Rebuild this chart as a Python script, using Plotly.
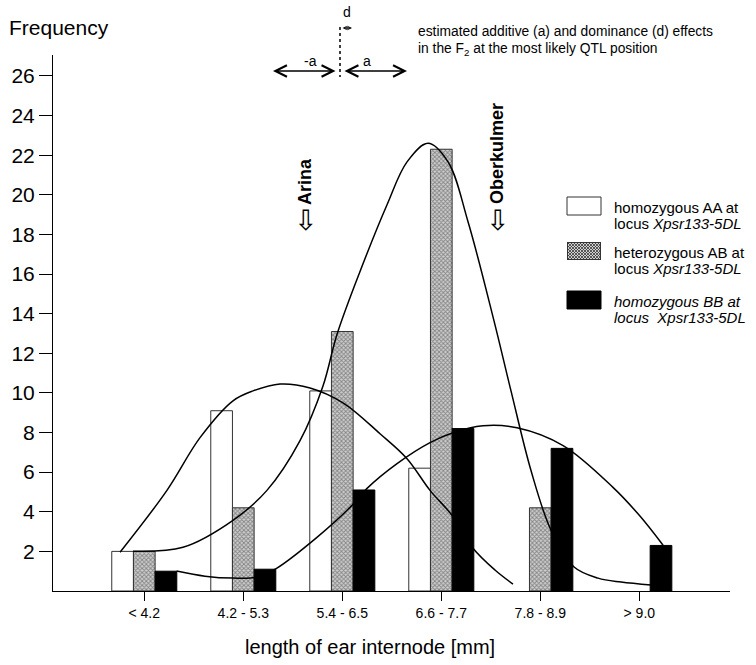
import base64
import plotly.graph_objects as go

# ---------------- data ----------------
categories = ["< 4.2", "4.2 - 5.3", "5.4 - 6.5", "6.6 - 7.7", "7.8 - 8.9", "> 9.0"]
aa_counts = [2.0, 9.1, 10.1, 6.2, None, None]
ab_counts = [2.0, 4.2, 13.1, 22.3, 4.2, None]
bb_counts = [1.0, 1.1, 5.1, 8.2, 7.2, 2.3]

# fitted distribution curves (x in category-index units)
aa_curve_x = [-0.245, 0.229, 0.563, 0.896, 1.098, 1.371, 1.674, 2.007, 2.381, 2.654, 2.886, 3.108, 3.320, 3.542, 3.724]
aa_curve_y = [1.96, 5.08, 7.74, 9.60, 10.10, 10.45, 10.25, 9.50, 7.94, 6.68, 5.08, 3.82, 2.16, 1.06, 0.35]

ab_curve_x = [-0.114, 0.391, 0.896, 1.239, 1.573, 1.805, 1.947, 2.179, 2.452, 2.654, 2.866, 3.068, 3.270, 3.533, 3.704, 3.906, 4.108, 4.341, 4.583, 4.816, 5.12]
ab_curve_y = [2.01, 2.21, 3.57, 5.08, 7.59, 10.35, 12.96, 16.13, 19.50, 21.66, 22.60, 21.66, 18.64, 13.62, 10.10, 6.08, 3.07, 1.21, 0.65, 0.45, 0.30]

bb_curve_x = [0.326, 0.613, 0.896, 1.138, 1.340, 1.744, 2.078, 2.250, 2.553, 2.886, 3.118, 3.421, 3.765, 4.230, 4.734, 5.000, 5.240]
bb_curve_y = [1.01, 0.75, 0.65, 0.70, 1.16, 2.71, 4.22, 5.18, 6.43, 7.49, 7.99, 8.34, 8.24, 7.34, 5.23, 3.82, 2.31]

y_ticks = [2, 4, 6, 8, 10, 12, 14, 16, 18, 20, 22, 24, 26]

series_names = ["homozygous AA at locus Xpsr133-5DL",
                "heterozygous AB at locus Xpsr133-5DL",
                "homozygous BB at locus Xpsr133-5DL"]

# ---------------- layout constants ----------------
W, H = 756, 665
ML, MR, MT, MB = 53, 26, 55, 74
PW, PH = W - ML - MR, H - MT - MB
FONT = "Liberation Sans, Arial, Helvetica, DejaVu Sans, sans-serif"
ARROWFONT = "DejaVu Sans, sans-serif"


def fx(px):
    return (px - ML) / PW


def fy(py):
    return (H - MB - py) / PH


xs = list(range(len(categories)))

fig = go.Figure()
fig.add_trace(go.Bar(x=xs, y=aa_counts, name=series_names[0],
                     marker=dict(color="white", line=dict(color="#333", width=1))))
fig.add_trace(go.Bar(x=xs, y=ab_counts, name=series_names[1],
                     marker=dict(color="#a8a8a8", line=dict(color="#333", width=1),
                                 pattern=dict(shape="x", size=3, solidity=0.5,
                                              fgcolor="#3a3a3a", bgcolor="#cfcfcf"))))
fig.add_trace(go.Bar(x=xs, y=bb_counts, name=series_names[2],
                     marker=dict(color="black", line=dict(color="black", width=1))))

for cx, cy in [(aa_curve_x, aa_curve_y), (ab_curve_x, ab_curve_y), (bb_curve_x, bb_curve_y)]:
    fig.add_trace(go.Scatter(x=cx, y=cy, mode="lines",
                             line=dict(color="black", width=1.5, shape="spline", smoothing=1.0),
                             hoverinfo="skip"))

ann = []
shapes = []


def text(t, px, py, size, xanchor="center", angle=0, family=FONT):
    ann.append(dict(text=t, x=fx(px), y=fy(py), xref="paper", yref="paper",
                    xanchor=xanchor, yanchor="middle", showarrow=False, textangle=angle,
                    font=dict(size=size, family=family, color="black")))


# axis titles
text("Frequency", 7, 28, 21, xanchor="left")
text("length of ear internode [mm]", 370, 647, 20)

# parent arrows
text("<b>Arina</b>", 305, 182, 18, angle=-90)
text("⇩", 305, 221, 28, family=ARROWFONT)
text("<b>Oberkulmer</b>", 497, 154, 18, angle=-90)
text("⇩", 497, 221, 28, family=ARROWFONT)

# effects diagram
shapes.append(dict(type="line", xref="paper", yref="paper", x0=fx(340), x1=fx(340), y0=fy(27), y1=fy(77),
                   line=dict(color="black", width=1.5, dash="dot")))
text("d", 347, 12, 14)
text("-a", 310, 61, 14)
text("a", 367, 61, 14)
for (x_head, x_tail, yy, sz, wd) in [(273, 337, 71, 1.5, 1.5), (407, 343, 71, 1.5, 1.5), (352, 341, 28, 0.6, 1.3)]:
    ann.append(dict(text="", x=fx(x_head), y=fy(yy), xref="paper", yref="paper", showarrow=True,
                    ax=x_tail - x_head, ay=0, axref="pixel", ayref="pixel",
                    arrowhead=5, startarrowhead=5, arrowside="end+start", arrowsize=sz,
                    startarrowsize=sz, arrowwidth=wd, arrowcolor="black"))
text("estimated additive (a) and dominance (d) effects", 416, 31, 13.8, xanchor="left")
text("in the F<sub>2</sub> at the most likely QTL position", 416, 49, 13.8, xanchor="left")

# legend
svg = ("<svg xmlns='http://www.w3.org/2000/svg' width='34' height='18'>"
       "<defs><pattern id='p' width='3' height='3' patternUnits='userSpaceOnUse'>"
       "<rect width='3' height='3' fill='#cfcfcf'/>"
       "<path d='M0,0L3,3M3,0L0,3' stroke='#3a3a3a' stroke-width='0.8'/></pattern></defs>"
       "<rect x='0.5' y='0.5' width='33' height='17' fill='url(#p)' stroke='#333' stroke-width='1'/></svg>")
svg_uri = "data:image/svg+xml;base64," + base64.b64encode(svg.encode()).decode()

legend_rows = [
    (197, "white", "#333", "homozygous AA at", "locus <i>Xpsr133-5DL</i>"),
    (242, None, None, "heterozygous AB at", "locus <i>Xpsr133-5DL</i>"),
    (291, "black", "black", "<i>homozygous BB at</i>", "<i>locus  Xpsr133-5DL</i>"),
]
images = []
for top, fill, edge, l1, l2 in legend_rows:
    if fill is None:
        images.append(dict(source=svg_uri, xref="paper", yref="paper", x=fx(567), y=fy(top),
                           sizex=34 / PW, sizey=18 / PH, xanchor="left", yanchor="top",
                           sizing="stretch", layer="above"))
    else:
        shapes.append(dict(type="rect", xref="paper", yref="paper", x0=fx(567), x1=fx(601),
                           y0=fy(top), y1=fy(top + 18), fillcolor=fill, line=dict(color=edge, width=1)))
    text(l1, 612, top + 10, 15, xanchor="left")
    text(l2, 612, top + 26, 15, xanchor="left")

fig.update_layout(
    width=W, height=H,
    margin=dict(l=ML, r=MR, t=MT, b=MB, pad=0),
    paper_bgcolor="white", plot_bgcolor="white",
    barmode="group", bargap=0.343, bargroupgap=0,
    showlegend=False,
    annotations=ann, shapes=shapes, images=images,
    font=dict(family=FONT, color="black"),
    xaxis=dict(range=[-0.922, 5.916], tickvals=xs, ticktext=categories,
               showline=True, linecolor="black", linewidth=1, ticks="outside",
               ticklen=9, tickcolor="black", tickwidth=1, showgrid=False, zeroline=False,
               tickfont=dict(size=14, family=FONT, color="black")),
    yaxis=dict(range=[0, PH / 19.81], tickvals=y_ticks, showline=True, linecolor="black", linewidth=1,
               ticks="outside", ticklen=13, tickcolor="black", tickwidth=1, showgrid=False,
               zeroline=False, tickfont=dict(size=21, family=FONT, color="black")),
)

fig.write_html("out.html")
